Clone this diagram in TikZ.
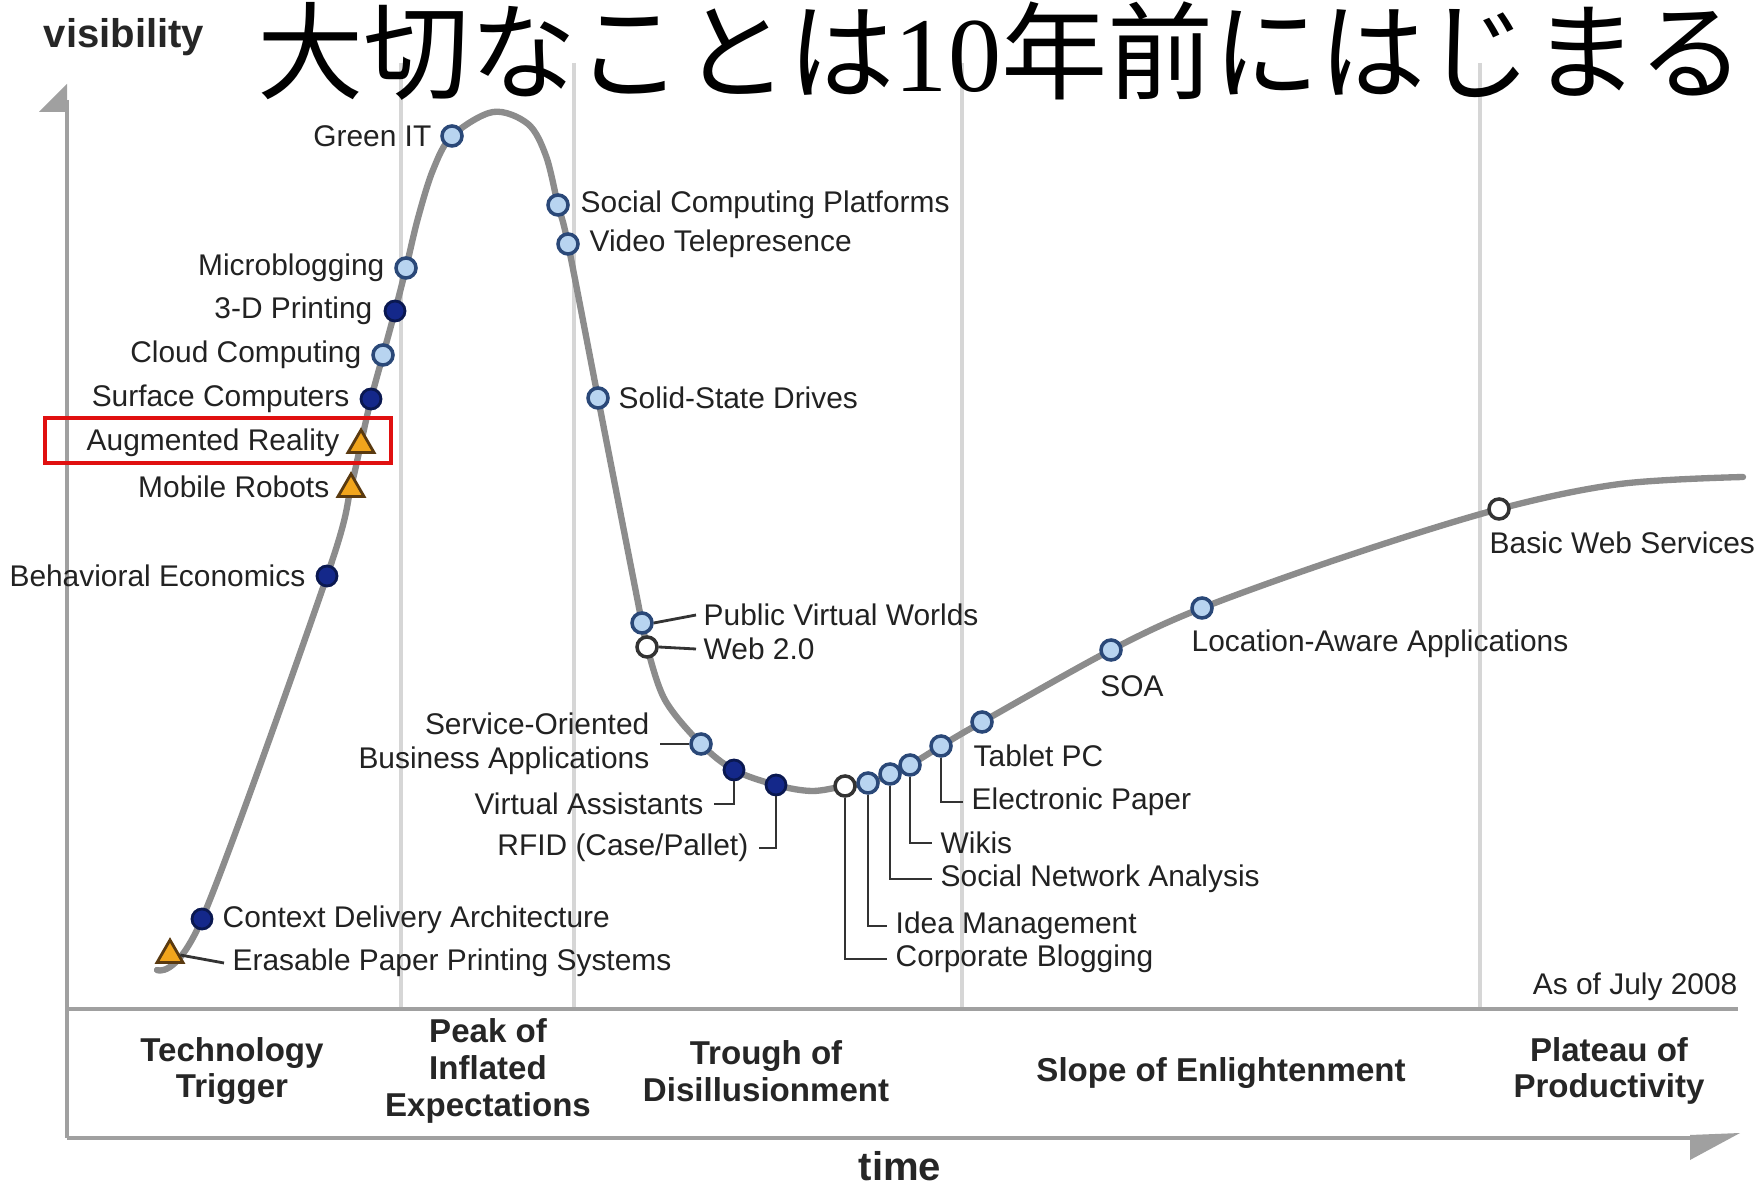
\documentclass[tikz,border=0pt]{standalone}
\usepackage{fontspec}
\setmainfont{Liberation Sans}
\newfontfamily\cjk{Noto Sans CJK JP}
\newfontfamily\serifdig{Liberation Serif}
\usetikzlibrary{shapes.geometric}
\definecolor{curvegray}{HTML}{8C8C8C}
\definecolor{axisgray}{HTML}{A0A0A0}
\definecolor{divgray}{HTML}{D6D6D6}
\definecolor{labtext}{HTML}{222222}
\definecolor{navyfill}{HTML}{14288A}
\definecolor{navyline}{HTML}{0A1850}
\definecolor{lightfill}{HTML}{B8D4F0}
\definecolor{lightline}{HTML}{2A4878}
\definecolor{trifill}{HTML}{F2A51C}
\definecolor{triline}{HTML}{5A3A10}
\definecolor{boxred}{HTML}{E01010}
\begin{document}
\begin{tikzpicture}[x=0.01cm,y=-0.01cm,
  lab/.style={inner sep=0pt, text=labtext, font=\fontsize{8.5pt}{9.6pt}\selectfont},
  ph/.style={inner sep=0pt, align=center, text=black!85, font=\bfseries\fontsize{9.4pt}{10.4pt}\selectfont},
  axlab/.style={inner sep=0pt, text=black!85, font=\bfseries\fontsize{11.4pt}{12pt}\selectfont},
  dk/.style={circle, inner sep=0pt, minimum size=0.2cm, fill=navyfill, draw=navyline, line width=0.8pt},
  lt/.style={circle, inner sep=0pt, minimum size=0.2cm, fill=lightfill, draw=lightline, line width=1pt},
  wt/.style={circle, inner sep=0pt, minimum size=0.2cm, fill=white, draw=black!80, line width=1pt},
  tri/.style={regular polygon, regular polygon sides=3, inner sep=0pt, minimum size=0.3cm, fill=trifill, draw=triline, line width=0.8pt},
  conn/.style={draw=black!80, line width=0.8pt},
  divline/.style={draw=divgray, line width=0.9pt},
  axisline/.style={draw=axisgray, line width=1.4pt}
]
\useasboundingbox (0,0) rectangle (1758,1186);
\fill[white] (0,0) rectangle (1758,1186);

% phase dividers
\draw[divline] (401,63) -- (401,1009);
\draw[divline] (574,63) -- (574,1009);
\draw[divline] (962,63) -- (962,1009);
\draw[divline] (1480,63) -- (1480,1009);

% axes
\draw[axisline] (67,100) -- (67,1138);
\fill[axisgray] (39,112) -- (67,84) -- (67,112) -- cycle;
\draw[axisline] (67,1009) -- (1738,1009);
\draw[axisline] (67,1138) -- (1700,1138);
\fill[axisgray] (1690,1135) -- (1740,1133) -- (1690,1160) -- cycle;

% title
\node[anchor=base west, inner sep=0pt, font=\fontsize{30.2pt}{32pt}\selectfont] (title) at (257,92)
  {\cjk 大切なことは\serifdig 10\cjk 年前にはじまる};
\node[axlab] (vis) at (124,37) {visibility};
\node[axlab] (time) at (900,1166) {time};

% hype curve
\draw[curvegray, line width=1.8pt, line cap=round] plot[smooth, tension=0.55] coordinates {
 (157,970) (202,919) (327,576) (351,487) (361,443) (371,399) (383,355) (395,311) (406,268)
 (418,218) (433,170) (452,136) (493,112) (528,124) (546,156) (558,205) (568,244) (598,398)
 (642,623) (647,647) (665,700) (701,744) (734,770) (776,785) (812,791) (845,786) (868,783)
 (890,774) (910,765) (941,746) (982,722) (1111,650) (1202,608) (1350,555) (1499,509)
 (1620,484) (1743,477)};

% markers
\node[tri] (m-epps) at (170,955) {};
\node[dk] (m-cda) at (202,919) {};
\node[dk] (m-be) at (327,576) {};
\node[tri] (m-mr) at (351,489) {};
\node[tri] (m-ar) at (361,445) {};
\node[dk] (m-sc) at (371,399) {};
\node[lt] (m-cc) at (383,355) {};
\node[dk] (m-3d) at (395,311) {};
\node[lt] (m-mb) at (406,268) {};
\node[lt] (m-git) at (452,136) {};
\node[lt] (m-scp) at (558,205) {};
\node[lt] (m-vt) at (568,244) {};
\node[lt] (m-ssd) at (598,398) {};
\node[lt] (m-pvw) at (642,623) {};
\node[wt] (m-w2) at (647,647) {};
\node[lt] (m-soba) at (701,744) {};
\node[dk] (m-va) at (734,770) {};
\node[dk] (m-rfid) at (776,785) {};
\node[wt] (m-cb) at (845,786) {};
\node[lt] (m-im) at (868,783) {};
\node[lt] (m-sna) at (890,774) {};
\node[lt] (m-wk) at (910,765) {};
\node[lt] (m-ep) at (941,746) {};
\node[lt] (m-tpc) at (982,722) {};
\node[lt] (m-soa) at (1111,650) {};
\node[lt] (m-laa) at (1202,608) {};
\node[wt] (m-bws) at (1499,509) {};

% labels left of rising slope
\node[lab, anchor=east] (l-git) at (432,136) {Green IT};
\node[lab, anchor=east] (l-mb) at (385,268) {Microblogging};
\node[lab, anchor=east] (l-3d) at (373,311) {3-D Printing};
\node[lab, anchor=east] (l-cc) at (362,355) {Cloud Computing};
\node[lab, anchor=east] (l-sc) at (350,399) {Surface Computers};
\node[lab, anchor=east] (l-ar) at (340,443) {Augmented Reality};
\node[lab, anchor=east] (l-mr) at (330,487) {Mobile Robots};
\node[lab, anchor=east] (l-be) at (306,576) {Behavioral Economics};
\node[lab, anchor=west] (l-cda) at (222,920) {Context Delivery Architecture};
\node[lab, anchor=west] (l-epps) at (232,963) {Erasable Paper Printing Systems};

% labels of falling slope and trough
\node[lab, anchor=west] (l-scp) at (580,205) {Social Computing Platforms};
\node[lab, anchor=west] (l-vt) at (589,244) {Video Telepresence};
\node[lab, anchor=west] (l-ssd) at (618,398) {Solid-State Drives};
\node[lab, anchor=west] (l-pvw) at (703,615) {Public Virtual Worlds};
\node[lab, anchor=west] (l-w2) at (703,649) {Web 2.0};
\node[lab, anchor=east, align=right] (l-soba) at (650,744) {Service-Oriented\\Business Applications};
\node[lab, anchor=east] (l-va) at (704,804) {Virtual Assistants};
\node[lab, anchor=east] (l-rfid) at (749,848) {RFID (Case/Pallet)};

% labels of slope
\node[lab, anchor=west] (l-tpc) at (973,756) {Tablet PC};
\node[lab, anchor=west] (l-ep) at (971,802) {Electronic Paper};
\node[lab, anchor=west] (l-wk) at (940,843) {Wikis};
\node[lab, anchor=west] (l-sna) at (940,879) {Social Network Analysis};
\node[lab, anchor=west] (l-im) at (895,926) {Idea Management};
\node[lab, anchor=west] (l-cb) at (895,959) {Corporate Blogging};
\node[lab] (l-soa) at (1132,686) {SOA};
\node[lab, anchor=west] (l-laa) at (1191,644) {Location-Aware Applications};
\node[lab, anchor=west] (l-bws) at (1489,543) {Basic Web Services};
\node[lab, anchor=east] (asof) at (1738,987) {As of July 2008};

% connectors
\draw[conn] (m-epps.east) -- ([xshift=-0.08cm]l-epps.west);
\draw[conn] (m-pvw.east) -- ([xshift=-0.07cm]l-pvw.west);
\draw[conn] (m-w2.east) -- ([xshift=-0.07cm]l-w2.west);
\draw[conn] ([xshift=0.1cm]l-soba.east) -- (m-soba.west);
\draw[conn] ([xshift=0.1cm]l-va.east) -| (m-va.south);
\draw[conn] ([xshift=0.1cm]l-rfid.east) -| (m-rfid.south);
\draw[conn] (m-ep.south) |- ([xshift=-0.08cm]l-ep.west);
\draw[conn] (m-wk.south) |- ([xshift=-0.08cm]l-wk.west);
\draw[conn] (m-sna.south) |- ([xshift=-0.08cm]l-sna.west);
\draw[conn] (m-im.south) |- ([xshift=-0.08cm]l-im.west);
\draw[conn] (m-cb.south) |- ([xshift=-0.08cm]l-cb.west);

% highlight box
\draw[boxred, line width=1.1pt] (45,418) rectangle (391,463);

% phase labels
\node[ph] (p1) at (232,1071) {Technology\\Trigger};
\node[ph] (p2) at (488,1071) {Peak of\\Inflated\\Expectations};
\node[ph] (p3) at (766,1071) {Trough of\\Disillusionment};
\node[ph] (p4) at (1221,1073) {Slope of Enlightenment};
\node[ph] (p5) at (1609,1071) {Plateau of\\Productivity};
\end{tikzpicture}
\end{document}
